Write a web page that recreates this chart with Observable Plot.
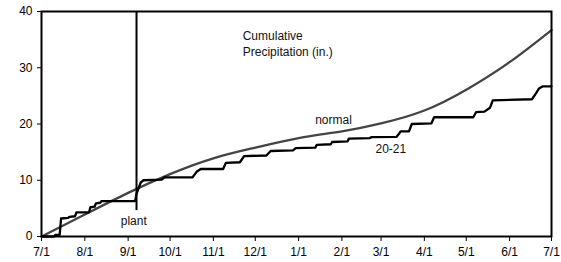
<!DOCTYPE html>
<html><head><meta charset="utf-8">
<script src="https://cdn.jsdelivr.net/npm/d3@7"></script>
<script src="https://cdn.jsdelivr.net/npm/@observablehq/plot@0.6"></script>
<style>body{margin:0;background:#fff} #chart svg{display:block}</style>
</head><body><div id="chart"></div>
<script>
// Normal cumulative precipitation (in.), read at the first of each month
const normalDates = ["2020-07-01","2020-08-01","2020-09-01","2020-10-01","2020-11-01","2020-12-01","2021-01-01","2021-02-01","2021-03-01","2021-04-01","2021-05-01","2021-06-01","2021-07-01"];
const normalValues = [0, 3.9, 7.75, 11.1, 13.9, 15.8, 17.5, 18.7, 20.1, 22.4, 26.1, 31.0, 36.7];

// 2020-21 season cumulative precipitation (in.)
const seasonDates = ["2020-07-01","2020-07-10","2020-07-11","2020-07-14","2020-07-15","2020-07-20","2020-07-21","2020-07-25","2020-07-26","2020-08-04","2020-08-05","2020-08-08","2020-08-09","2020-08-12","2020-08-13","2020-09-06","2020-09-07","2020-09-10","2020-09-12","2020-09-25","2020-09-27","2020-10-17","2020-10-20","2020-10-23","2020-11-08","2020-11-10","2020-11-20","2020-11-23","2020-12-09","2020-12-12","2020-12-28","2020-12-30","2021-01-13","2021-01-14","2021-01-24","2021-01-25","2021-02-05","2021-02-06","2021-02-21","2021-02-22","2021-03-12","2021-03-14","2021-03-15","2021-03-21","2021-03-23","2021-04-06","2021-04-08","2021-05-06","2021-05-08","2021-05-14","2021-05-18","2021-05-20","2021-06-17","2021-06-20","2021-06-22","2021-06-25","2021-07-01"];
const seasonValues = [0, 0, 0.3, 0.3, 3.2, 3.3, 3.5, 3.6, 4.3, 4.3, 5.2, 5.3, 5.9, 6.0, 6.3, 6.3, 7.6, 9.6, 10.0, 10.1, 10.5, 10.5, 11.5, 12.0, 12.0, 13.1, 13.2, 14.3, 14.4, 15.2, 15.3, 15.7, 15.8, 16.3, 16.4, 16.8, 16.9, 17.4, 17.5, 17.65, 17.7, 18.3, 18.7, 18.7, 20.0, 20.1, 21.2, 21.2, 22.1, 22.2, 22.9, 24.2, 24.4, 25.5, 26.3, 26.7, 26.7];

// Planting date marker
const plantDate = "2020-09-07";
const plantFrom = 4.6;
const plantTo = 40;

// Axes
const xDomain = ["2020-07-01","2021-07-01"];
const xTickDates = ["2020-07-01","2020-08-01","2020-09-01","2020-10-01","2020-11-01","2020-12-01","2021-01-01","2021-02-01","2021-03-01","2021-04-01","2021-05-01","2021-06-01","2021-07-01"];
const yTicks = [0, 10, 20, 30, 40];

// Annotations (anchored in data space)
const labelTexts = ["normal", "20-21", "plant", "Cumulative\nPrecipitation (in.)"];
const labelDates = ["2021-01-26", "2021-03-08", "2020-09-05", "2020-11-22"];
const labelValues = [20.7, 15.6, 2.75, 34.5];
const labelAnchors = ["middle", "middle", "middle", "start"];

const parse = d3.utcParse("%Y-%m-%d");
const normal = normalDates.map((d, i) => ({date: parse(d), value: normalValues[i]}));
const season = seasonDates.map((d, i) => ({date: parse(d), value: seasonValues[i]}));
const labels = labelTexts.map((t, i) => ({text: t, date: parse(labelDates[i]), value: labelValues[i], anchor: labelAnchors[i]}));
const fmt = d3.utcFormat("%-m/%-d");

const chart = Plot.plot({
  width: 561,
  height: 262,
  marginLeft: 41,
  marginRight: 10,
  marginTop: 11,
  marginBottom: 26,
  style: {fontFamily: "'Liberation Sans', Arial, sans-serif", fontSize: "12px", color: "#000", background: "#fff"},
  x: {type: "utc", domain: xDomain.map(parse)},
  y: {domain: [0, 40]},
  marks: [
    Plot.axisX({ticks: xTickDates.map(parse), tickFormat: fmt, tickSize: 5, tickPadding: 6, label: null, fontSize: 12}),
    Plot.axisY({ticks: yTicks, tickSize: 4, tickPadding: 5, label: null, fontSize: 12}),
    Plot.line(normal, {x: "date", y: "value", stroke: "#444", strokeWidth: 2.3, curve: "natural"}),
    Plot.line(season, {x: "date", y: "value", stroke: "#000", strokeWidth: 2.3}),
    Plot.ruleX([parse(plantDate)], {y1: plantFrom, y2: plantTo, stroke: "#000", strokeWidth: 2}),
    Plot.text(labels.filter(d => d.anchor === "middle"), {x: "date", y: "value", text: "text", textAnchor: "middle", fill: "#111", fontSize: 12}),
    Plot.text(labels.filter(d => d.anchor === "start"), {x: "date", y: "value", text: "text", textAnchor: "start", lineAnchor: "middle", lineHeight: 1.35, fill: "#111", fontSize: 12}),
    Plot.frame({stroke: "#000", strokeWidth: 2})
  ]
});
document.getElementById("chart").appendChild(chart);
</script>
</body></html>
